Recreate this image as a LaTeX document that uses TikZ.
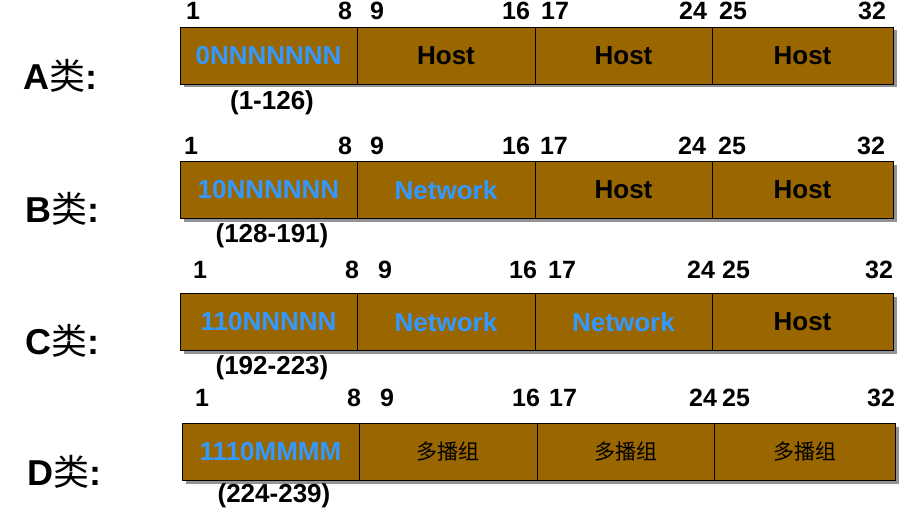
\documentclass[tikz,border=0pt]{standalone}
\usepackage{fontspec}
\setmainfont{Liberation Sans}
\newfontfamily\cjk{Noto Sans CJK SC}
\usetikzlibrary{positioning,shadows}

\definecolor{fieldbrown}{HTML}{996600}
\definecolor{netblue}{HTML}{3399FF}

\tikzset{
  field/.style={draw, line width=0.8pt, fill=fieldbrown, minimum width=177pt,
    minimum height=57pt, inner sep=0pt, outer sep=0pt,
    font=\bfseries\fontsize{26}{26}\selectfont,
    drop shadow={shadow xshift=3.5pt, shadow yshift=-3.5pt, fill=gray!85, opacity=1}},
  net/.style={text=netblue},
  mcast/.style={font=\cjk\mdseries\fontsize{21}{21}\selectfont},
  num/.style={inner sep=0pt, font=\bfseries\fontsize{25}{25}\selectfont},
  rangelbl/.style={inner sep=0pt, font=\bfseries\fontsize{26}{26}\selectfont},
  cls/.style={anchor=west, inner sep=0pt, font=\bfseries\fontsize{36}{36}\selectfont}
}

\begin{document}
\begin{tikzpicture}[x=1pt,y=-1pt]
\useasboundingbox (0,0) rectangle (906,519);

% A class
\node[field,net] (a1) at (268.5,55.5) {0NNNNNNN};
\node[field,minimum width=178pt,right=0pt of a1] (a2) {Host};
\node[field,right=0pt of a2] (a3) {Host};
\node[field,minimum width=181pt,right=0pt of a3] (a4) {Host};
\node[cls] (clsa) at (23,76) {A{\cjk\mdseries 类}:};
\node[rangelbl] (rnga) at (272,103) {(1-126)};
\path[num] (193,11) node (na1) {1} (345,11) node (na8) {8}
  (377,11) node (na9) {9} (516,11) node (na16) {16}
  (555,11) node (na17) {17} (693,11) node (na24) {24}
  (733,11) node (na25) {25} (872,11) node (na32) {32};

% B class
\node[field,net] (b1) at (268.5,190) {10NNNNNN};
\node[field,net,minimum width=178pt,right=0pt of b1] (b2) {Network};
\node[field,right=0pt of b2] (b3) {Host};
\node[field,minimum width=181pt,right=0pt of b3] (b4) {Host};
\node[cls] (clsb) at (25,209) {B{\cjk\mdseries 类}:};
\node[rangelbl] (rngb) at (272,236) {(128-191)};
\path[num] (191,146) node (nb1) {1} (345,146) node (nb8) {8}
  (377,146) node (nb9) {9} (516,146) node (nb16) {16}
  (554,146) node (nb17) {17} (692,146) node (nb24) {24}
  (732,146) node (nb25) {25} (871,146) node (nb32) {32};

% C class
\node[field,net] (c1) at (268.5,322) {110NNNNN};
\node[field,net,minimum width=178pt,right=0pt of c1] (c2) {Network};
\node[field,net,right=0pt of c2] (c3) {Network};
\node[field,minimum width=181pt,right=0pt of c3] (c4) {Host};
\node[cls] (clsc) at (25,341) {C{\cjk\mdseries 类}:};
\node[rangelbl] (rngc) at (272,368) {(192-223)};
\path[num] (200,270) node (nc1) {1} (352,270) node (nc8) {8}
  (385,270) node (nc9) {9} (523,270) node (nc16) {16}
  (562,270) node (nc17) {17} (701,270) node (nc24) {24}
  (736,270) node (nc25) {25} (879,270) node (nc32) {32};

% D class
\node[field,net] (d1) at (270.5,451.5) {1110MMMM};
\node[field,mcast,minimum width=178pt,right=0pt of d1] (d2) {多播组};
\node[field,mcast,right=0pt of d2] (d3) {多播组};
\node[field,mcast,minimum width=181pt,right=0pt of d3] (d4) {多播组};
\node[cls] (clsd) at (27,472) {D{\cjk\mdseries 类}:};
\node[rangelbl] (rngd) at (274,496) {(224-239)};
\path[num] (202,398) node (nd1) {1} (354,398) node (nd8) {8}
  (387,398) node (nd9) {9} (526,398) node (nd16) {16}
  (563,398) node (nd17) {17} (703,398) node (nd24) {24}
  (736,398) node (nd25) {25} (881,398) node (nd32) {32};
\end{tikzpicture}
\end{document}
